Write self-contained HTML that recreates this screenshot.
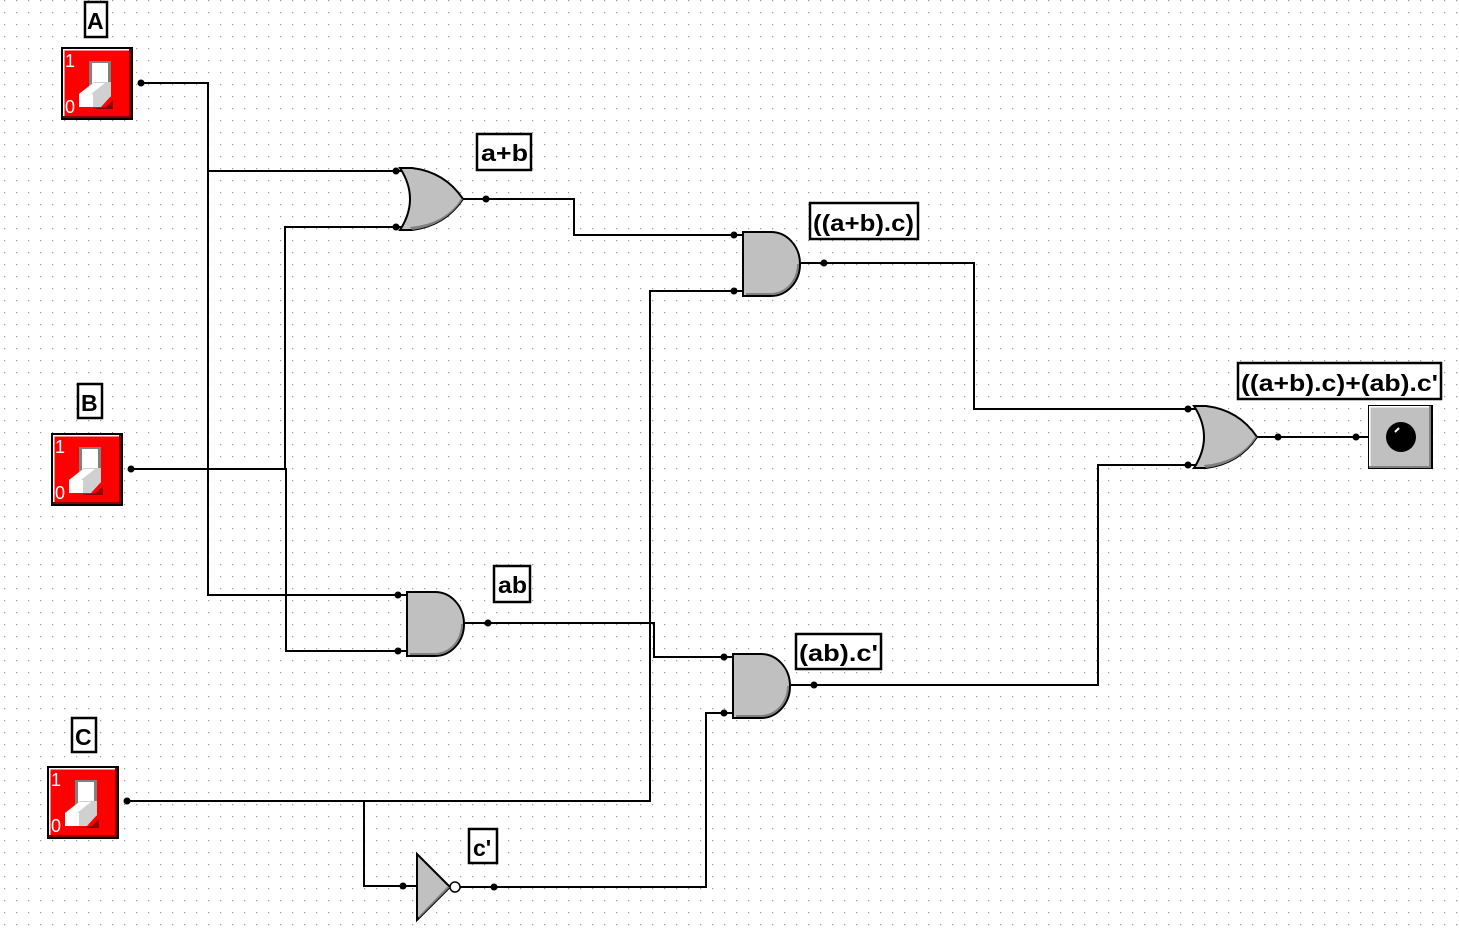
<!DOCTYPE html>
<html><head><style>
html,body{margin:0;padding:0;background:#fff;}
svg{display:block;}
text{font-family:"Liberation Sans",sans-serif;font-size:23px;fill:#000;font-weight:bold;}
</style></head><body>
<svg width="1459" height="932" xmlns="http://www.w3.org/2000/svg">
<defs>
<pattern id="g" x="4" y="0" width="12" height="12" patternUnits="userSpaceOnUse">
<rect x="0" y="0" width="1.2" height="1.2" fill="#9a9a9a"/>
</pattern>
<g id="sw">
<rect x="0" y="0" width="72" height="73" fill="#000"/>
<rect x="2" y="2" width="68" height="69" fill="#8b0000"/>
<rect x="2" y="2" width="66" height="67" fill="#ff0000"/>
<rect x="2" y="2" width="66" height="1.5" fill="#fff"/>
<rect x="2" y="2" width="1.5" height="67" fill="#fff"/>
<text x="4" y="20" style="font-size:18px;font-weight:normal;fill:#fff">1</text>
<text x="4" y="66" style="font-size:18px;font-weight:normal;fill:#fff">0</text>
<polygon points="30,62 52,62 52,53 45,60" fill="#8b0000"/>
<rect x="28" y="14" width="22" height="36" fill="#808080"/>
<rect x="31" y="16" width="16" height="30" fill="#fff"/>
<polygon points="18,47 33,35 50,35 50,49 40,60 18,60" fill="#d0d0d0"/>
<polygon points="18,47 33,36 44,36 30,47" fill="#fff"/>
<rect x="18" y="47" width="14" height="13" fill="#fff"/>
</g>
<g id="and">
<path d="M0,0 H28 A29,32 0 0 1 28,64 H0 Z" fill="#c0c0c0" stroke="#000" stroke-width="2"/>
<path d="M3,61 H28 A26,29 0 0 0 54,32 L56,32 A28,31 0 0 1 28,63 H3Z" fill="#808080"/>
</g>
<g id="or">
<path d="M0,0 H12 Q45,4 63,31 Q45,58 12,62 H0 Q20,31 0,0Z" fill="#c0c0c0" stroke="#000" stroke-width="2"/>
<path d="M10,59 Q45,56 61,31 L63,31 Q45,58 12,62Z" fill="#808080"/>
</g>
</defs>
<rect width="1459" height="932" fill="url(#g)"/>
<g fill="none" stroke="#000" stroke-width="2">
<polyline points="141,83 208,83 208,595 398,595"/>
<polyline points="208,171 396,171"/>
<polyline points="131,469 286,469 286,651 398,651"/>
<polyline points="285,469 285,227 396,227"/>
<polyline points="486,199 574,199 574,235 734,235"/>
<polyline points="824,263 974,263 974,409 1188,409"/>
<polyline points="127,801 650,801 650,291 734,291"/>
<polyline points="364,801 364,886 403,886"/>
<polyline points="460,887 706,887 706,713 724,713"/>
<polyline points="488,623 654,623 654,657 724,657"/>
<polyline points="814,685 1098,685 1098,465 1188,465"/>
<polyline points="1256,437 1356,437 1368,437"/>
<line x1="463" y1="199" x2="486" y2="199"/>
<line x1="801" y1="263" x2="824" y2="263"/>
<line x1="465" y1="623" x2="488" y2="623"/>
<line x1="791" y1="685" x2="814" y2="685"/>
<line x1="396" y1="171" x2="402" y2="171"/><line x1="396" y1="227" x2="402" y2="227"/>
<line x1="734" y1="235" x2="743" y2="235"/><line x1="734" y1="291" x2="743" y2="291"/>
<line x1="398" y1="595" x2="407" y2="595"/><line x1="398" y1="651" x2="407" y2="651"/>
<line x1="724" y1="657" x2="733" y2="657"/><line x1="724" y1="713" x2="733" y2="713"/>
<line x1="1188" y1="409" x2="1197" y2="409"/><line x1="1188" y1="465" x2="1197" y2="465"/>
<line x1="403" y1="886" x2="417" y2="886"/>
</g>
<use href="#sw" x="61" y="47"/>
<use href="#sw" x="51" y="433"/>
<use href="#sw" x="47" y="766"/>
<use href="#or" x="400" y="168"/>
<use href="#or" x="1194" y="406"/>
<use href="#and" x="743" y="232"/>
<use href="#and" x="407" y="592"/>
<use href="#and" x="733" y="654"/>
<polygon points="417,854 450,887 417,920" fill="#c0c0c0" stroke="#000" stroke-width="2"/>
<polygon points="419,916 447,887 450,887 419,918" fill="#808080"/>
<circle cx="455" cy="887" r="5" fill="#fff" stroke="#000" stroke-width="1.5"/>
<rect x="1368" y="405" width="65" height="64" fill="#000"/>
<rect x="1369" y="406" width="62" height="62" fill="#808080"/>
<rect x="1369" y="406" width="60" height="60" fill="#c0c0c0"/>
<rect x="1369" y="406" width="60" height="1.5" fill="#fff"/>
<rect x="1369" y="406" width="1.5" height="60" fill="#fff"/>
<circle cx="1401" cy="437" r="15" fill="#000"/>
<line x1="1395" y1="432" x2="1399" y2="428" stroke="#fff" stroke-width="2"/>
<g fill="#000">
<circle cx="141" cy="83" r="3.5"/><circle cx="131" cy="469" r="3.5"/><circle cx="127" cy="801" r="3.5"/>
<circle cx="396" cy="171" r="3.5"/><circle cx="396" cy="227" r="3.5"/><circle cx="486" cy="199" r="3.5"/>
<circle cx="734" cy="235" r="3.5"/><circle cx="734" cy="291" r="3.5"/><circle cx="824" cy="263" r="3.5"/>
<circle cx="398" cy="595" r="3.5"/><circle cx="398" cy="651" r="3.5"/><circle cx="488" cy="623" r="3.5"/>
<circle cx="724" cy="657" r="3.5"/><circle cx="724" cy="713" r="3.5"/><circle cx="814" cy="685" r="3.5"/>
<circle cx="1188" cy="409" r="3.5"/><circle cx="1188" cy="465" r="3.5"/><circle cx="1278" cy="437" r="3.5"/>
<circle cx="1356" cy="437" r="3.5"/><circle cx="403" cy="886" r="3.5"/><circle cx="494" cy="887" r="3.5"/>
</g>
<g fill="#fff" stroke="#000" stroke-width="2.5">
<rect x="85" y="2" width="22" height="35"/>
<rect x="78" y="384" width="24" height="34"/>
<rect x="72" y="718" width="24" height="34"/>
<rect x="477" y="134" width="54" height="36"/>
<rect x="810" y="203" width="108" height="36"/>
<rect x="1238" y="363" width="203" height="36"/>
<rect x="494" y="566" width="36" height="36"/>
<rect x="796" y="634" width="85" height="35"/>
<rect x="469" y="829" width="28" height="34"/>
</g>
<text x="87" y="29">A</text>
<text x="81" y="411">B</text>
<text x="75" y="745">C</text>
<text x="481" y="161" textLength="47" lengthAdjust="spacingAndGlyphs">a+b</text>
<text x="813" y="231" textLength="101" lengthAdjust="spacingAndGlyphs">((a+b).c)</text>
<text x="1241" y="391" textLength="197" lengthAdjust="spacingAndGlyphs">((a+b).c)+(ab).c'</text>
<text x="498" y="593" textLength="29" lengthAdjust="spacingAndGlyphs">ab</text>
<text x="799" y="661" textLength="79" lengthAdjust="spacingAndGlyphs">(ab).c'</text>
<text x="473" y="856">c'</text>
</svg>
</body></html>
